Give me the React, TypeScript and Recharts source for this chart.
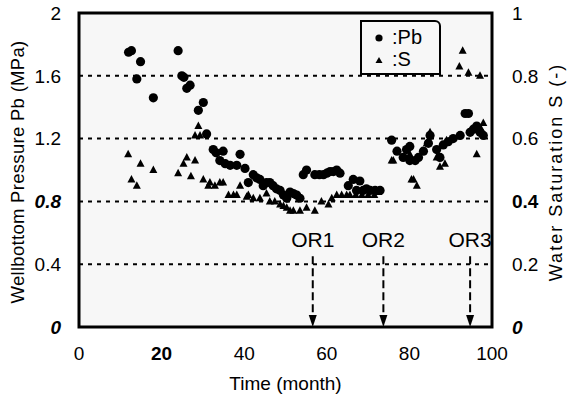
import React from 'react';
import {
  ScatterChart,
  Scatter,
  XAxis,
  YAxis,
  CartesianGrid,
  ReferenceLine,
  ReferenceArea,
} from 'recharts';

// wellbottom pressure Pb (MPa) by month
const PB_MONTHS = [
  12, 12.7, 14.9, 14.0, 18.0, 24.0, 24.9, 25.4, 26.9, 26.1, 30.1, 28.9, 30.9, 32.5, 33.2, 34.9, 34.1, 35.4,
  36.6, 38.2, 39.0, 40.2, 41.0, 42.2, 43.0, 43.8, 44.6, 45.4, 46.2, 47.0, 47.8, 48.7, 49.5, 50.3, 51.1, 51.9,
  52.7, 53.5, 54.3, 55.1, 57.1, 58.2, 59.2, 60.0, 60.8, 61.6, 62.4, 63.2, 65.2, 66.4, 67.2, 68.0, 68.8, 69.6,
  70.5, 71.7, 72.9, 75.7, 77.0, 78.5, 79.3, 80.1, 80.1, 81.4, 82.2, 83.4, 84.6, 85.0, 86.6, 87.4, 88.2, 89.4,
  90.6, 92.3, 93.5, 94.3, 94.7, 95.5, 96.3, 97.1, 97.9,
];
const PB_VALUES = [
  1.75, 1.76, 1.69, 1.58, 1.46, 1.76, 1.6, 1.59, 1.54, 1.52, 1.43, 1.38, 1.23, 1.13, 1.11, 1.12, 1.06, 1.04,
  1.03, 1.03, 1.1, 1.01, 0.92, 0.97, 0.95, 0.94, 0.9, 0.92, 0.92, 0.9, 0.88, 0.87, 0.84, 0.82, 0.86, 0.85,
  0.84, 0.82, 0.97, 1.0, 0.97, 0.97, 0.97, 0.98, 0.99, 0.99, 1.0, 0.98, 0.9, 0.94, 0.87, 0.93, 0.87, 0.88,
  0.87, 0.87, 0.87, 1.19, 1.12, 1.08, 1.13, 1.15, 1.06, 1.06, 1.08, 1.12, 1.17, 1.22, 1.13, 1.08, 1.16, 1.18,
  1.2, 1.22, 1.36, 1.36, 1.24, 1.26, 1.28, 1.24, 1.22,
];

// water saturation S (-) by month
const S_MONTHS = [
  11.9, 12.7, 14.0, 14.9, 18.0, 24.0, 25.3, 26.1, 27.1, 28.1, 28.1, 28.9, 29.3, 30.1, 31.3, 31.7, 32.9, 34.1,
  34.9, 36.2, 37.4, 38.2, 39.0, 40.6, 41.0, 42.2, 43.8, 45.4, 46.2, 47.4, 48.7, 49.5, 50.3, 51.1, 51.9, 53.5,
  55.1, 57.1, 58.7, 60.4, 61.2, 62.4, 63.6, 64.8, 65.6, 67.0, 68.5, 70.0, 71.5, 72.5, 75.7, 76.1, 80.1, 80.5,
  81.0, 81.8, 84.2, 85.0, 86.6, 87.4, 88.6, 89.0, 92.1, 92.9, 94.3, 96.3, 97.1, 97.4, 97.9,
];
const S_VALUES = [
  0.55, 0.47, 0.45, 0.52, 0.5, 0.49, 0.52, 0.54, 0.48, 0.53, 0.61, 0.64, 0.61, 0.47, 0.45, 0.46, 0.45, 0.46,
  0.46, 0.42, 0.42, 0.42, 0.45, 0.415, 0.42, 0.41, 0.41, 0.425, 0.4, 0.4, 0.39, 0.385, 0.38, 0.37, 0.37, 0.37,
  0.38, 0.37, 0.4, 0.39, 0.41, 0.42, 0.42, 0.42, 0.42, 0.42, 0.42, 0.42, 0.42, 0.43, 0.53, 0.53, 0.55, 0.47,
  0.47, 0.45, 0.585, 0.62, 0.54, 0.51, 0.52, 0.595, 0.83, 0.88, 0.81, 0.55, 0.8, 0.63, 0.65,
];

const X_TICKS = [0, 20, 40, 60, 80, 100];
const PB_TICKS = [0, 0.4, 0.8, 1.2, 1.6, 2];
const S_TICKS = [0, 0.2, 0.4, 0.6, 0.8, 1];

// OR events: month, label
const OR_MONTHS = [56.6, 73.7, 94.7];
const OR_LABELS = ['OR1', 'OR2', 'OR3'];
const OR_TOP_PB = 0.45;

const pbData = PB_MONTHS.map((m, i) => ({ month: m, pb: PB_VALUES[i] }));
const sData = S_MONTHS.map((m, i) => ({ month: m, s: S_VALUES[i] }));

const FONT = '"Liberation Sans", Arial, sans-serif';

const Dot = (p: any) => <circle cx={p.cx} cy={p.cy} r={4.6} fill="#000" />;
const Tri = (p: any) => (
  <polygon points={`${p.cx},${p.cy - 4.5} ${p.cx - 4},${p.cy + 3} ${p.cx + 4},${p.cy + 3}`} fill="#000" />
);

const LeftTick = (p: any) => {
  const v = p.payload.value;
  const italic = v === 0 || v === 0.8;
  return (
    <text x={p.x - 10} y={p.y} dy="0.36em" textAnchor="end" fontFamily={FONT} fontSize={19}
      fontStyle={italic ? 'italic' : 'normal'} fontWeight={italic ? 700 : 400} fill="#000">
      {v}
    </text>
  );
};

const RightTick = (p: any) => {
  const v = p.payload.value;
  return (
    <text x={p.x + 12} y={p.y} dy="0.36em" textAnchor="start" fontFamily={FONT} fontSize={19}
      fontStyle={v === 0 ? 'italic' : 'normal'} fontWeight={v === 0.4 || v === 0 ? 700 : 400} fill="#000">
      {v}
    </text>
  );
};

const BottomTick = (p: any) => {
  const v = p.payload.value;
  return (
    <text x={p.x} y={p.y + 12} dy="0.71em" textAnchor="middle" fontFamily={FONT} fontSize={19}
      fontWeight={v === 20 ? 700 : 400} fill="#000">
      {v}
    </text>
  );
};

const LeftLabel = (p: any) => {
  const vb = p.viewBox;
  const cx = vb.x + 17;
  const cy = vb.y + vb.height / 2 + 2;
  return (
    <text x={cx} y={cy} transform={`rotate(-90 ${cx} ${cy})`} textAnchor="middle" dy="0.36em"
      fontFamily={FONT} fontSize={18.5} letterSpacing={0.3} fill="#000">
      Wellbottom Pressure Pb (MPa)
    </text>
  );
};

const RightLabel = (p: any) => {
  const vb = p.viewBox;
  const cx = vb.x + 64;
  const cy = vb.y + vb.height / 2 + 2;
  return (
    <text x={cx} y={cy} transform={`rotate(-90 ${cx} ${cy})`} textAnchor="middle" dy="0.36em"
      fontFamily={FONT} fontSize={18} letterSpacing={2} fill="#000">
      Water Saturation S (-)
    </text>
  );
};

const OrArrow = (label: string) => (p: any) => {
  const x = p.x1;
  const top = Math.min(p.y1, p.y2);
  const bottom = Math.max(p.y1, p.y2);
  return (
    <g>
      <text x={x} y={top - 9} textAnchor="middle" fontFamily={FONT} fontSize={21} fill="#000">{label}</text>
      <line x1={x} y1={top} x2={x} y2={bottom - 10} stroke="#000" strokeWidth={2} strokeDasharray="8 4" />
      <polygon points={`${x - 4},${bottom - 12} ${x + 4},${bottom - 12} ${x},${bottom}`} fill="#000" />
    </g>
  );
};

const LegendBox = () => (
  <div style={{
    position: 'absolute', left: 360, top: 20, width: 77, height: 51, border: '2px solid #000',
    borderTopRightRadius: 6, background: '#f7f7f7', fontFamily: FONT, fontSize: 20, lineHeight: '22px',
    color: '#000',
  }}>
    <div style={{ display: 'flex', alignItems: 'center', paddingTop: 4 }}>
      <svg width={30} height={22}><circle cx={17} cy={12} r={3.6} fill="#000" /></svg>
      <span>:Pb</span>
    </div>
    <div style={{ display: 'flex', alignItems: 'center' }}>
      <svg width={30} height={22}><polygon points="17,9 13.5,15 20.5,15" fill="#000" /></svg>
      <span>:S</span>
    </div>
  </div>
);

export default function App() {
  return (
    <div style={{ position: 'absolute', left: 0, top: 0, width: 568, height: 404, background: '#fff' }}>
      <ScatterChart width={568} height={404} margin={{ top: 13, right: 0, bottom: 0, left: 0 }}>
        <CartesianGrid yAxisId="pb" vertical={false} stroke="#000" strokeWidth={2} strokeDasharray="4 5"
          fill="#f7f7f7" />
        <XAxis type="number" dataKey="month" domain={[0, 100]} ticks={X_TICKS} height={77}
          axisLine={false} tickLine={false} tick={<BottomTick />}
          label={{ value: 'Time (month)', position: 'insideBottom', offset: 14, fontFamily: FONT, fontSize: 19, fill: '#000' }} />
        <YAxis yAxisId="pb" type="number" dataKey="pb" domain={[0, 2]} ticks={PB_TICKS} width={79}
          axisLine={false} tickLine={false} tick={<LeftTick />} label={<LeftLabel />} />
        <YAxis yAxisId="s" orientation="right" type="number" dataKey="s" domain={[0, 1]} ticks={S_TICKS} width={76}
          axisLine={false} tickLine={false} tick={<RightTick />} label={<RightLabel />} />
        <Scatter yAxisId="pb" data={pbData} shape={<Dot />} isAnimationActive={false} />
        <Scatter yAxisId="s" data={sData} shape={<Tri />} isAnimationActive={false} />
        {OR_MONTHS.map((m, i) => (
          <ReferenceLine key={OR_LABELS[i]} yAxisId="pb" segment={[{ x: m, y: OR_TOP_PB }, { x: m, y: 0 }]}
            shape={OrArrow(OR_LABELS[i])} />
        ))}
        <ReferenceArea yAxisId="pb" x1={0} x2={100} y1={0} y2={2} fill="none" stroke="#000" strokeWidth={3}
          fillOpacity={0} />
      </ScatterChart>
      <LegendBox />
    </div>
  );
}
